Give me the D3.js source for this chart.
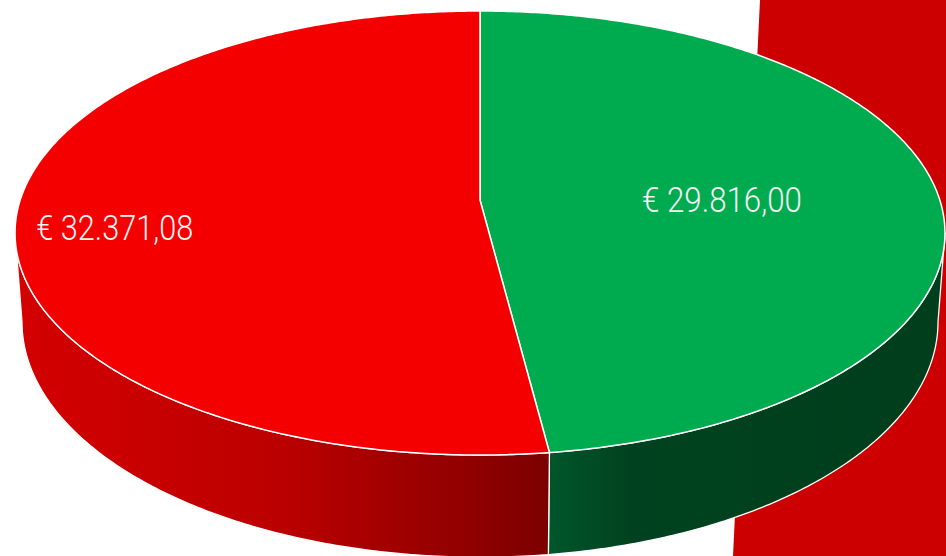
<!DOCTYPE html>
<html>
<head>
<meta charset="utf-8">
<script src="https://cdn.jsdelivr.net/npm/d3@7"></script>
<style>
  body { margin: 0; background: #fff; }
  svg { display: block; }
</style>
</head>
<body>
<div id="chart"></div>
<script>
// data
const categories = ["Verde", "Rosso"];
const values = [29816.00, 32371.08];
const labels = ["€ 29.816,00", "€ 32.371,08"];
const topColors = ["#00ab4f", "#f50000"];

const width = 946, height = 556;

const svg = d3.select("#chart")
  .append("svg")
    .attr("width", width)
    .attr("height", height);

// red band in the background
svg.append("path")
  .attr("d", `M760,0 L${width},0 L${width},${height} L733,${height} Z`)
  .attr("fill", "#cc0000");

// perspective projection of a disc
const cx = 480, cy = 200;   // projected centre
const a = 459.8, b = 217.1; // radii
const k = 0.1487;           // perspective strength
const depth = 87;           // thickness
const shrink = 0.985;       // bottom face is a bit narrower

function proj(theta, r, bottom) {
  const u = r * Math.sin(theta), v = -r * Math.cos(theta);
  const w = 1 - k * v;
  const s = bottom ? shrink : 1;
  return [cx + s * a * u / w, cy + b * v / w + (bottom ? depth / w : 0)];
}

function arcPoints(t0, t1, r, bottom) {
  const n = Math.max(2, Math.ceil(Math.abs(t1 - t0) / 0.01));
  return d3.range(n + 1).map(i => proj(t0 + (t1 - t0) * i / n, r, bottom));
}

const line = d3.line();

const pie = d3.pie().sort(null).value(d => d)
  .startAngle(0).endAngle(2 * Math.PI);
const slices = pie(values);

// gradients for the side walls
const defs = svg.append("defs");
const sideGrads = [
  { id: "sideGreen", x1: 549, x2: 945, stops: [[0, "#00562b"], [0.2, "#00421f"], [1, "#003e1c"]] },
  { id: "sideRed", x1: 15, x2: 549, stops: [[0, "#d40000"], [0.5, "#bb0000"], [0.85, "#900000"], [1, "#7c0000"]] }
];
sideGrads.forEach(g => {
  const lg = defs.append("linearGradient")
    .attr("id", g.id)
    .attr("gradientUnits", "userSpaceOnUse")
    .attr("x1", g.x1).attr("x2", g.x2).attr("y1", 0).attr("y2", 0);
  g.stops.forEach(s => lg.append("stop").attr("offset", s[0]).attr("stop-color", s[1]));
});

// visible part of the rim lies between the two silhouette points
const tL = Math.acos(-k), tR = 2 * Math.PI - Math.acos(-k);

svg.append("g")
  .selectAll("path")
  .data(slices)
  .join("path")
    .attr("d", d => {
      const t0 = Math.max(d.startAngle, tL), t1 = Math.min(d.endAngle, tR);
      if (t1 <= t0) return null;
      const pts = arcPoints(t0, t1, 1, false).concat(arcPoints(t1, t0, 1, true));
      return line(pts) + "Z";
    })
    .attr("fill", (d, i) => `url(#${sideGrads[i].id})`)
    .attr("stroke", "#fff")
    .attr("stroke-width", 1.3)
    .attr("stroke-linejoin", "round");

// top faces
svg.append("g")
  .selectAll("path")
  .data(slices)
  .join("path")
    .attr("d", d => line([[cx, cy]].concat(arcPoints(d.startAngle, d.endAngle, 1, false))) + "Z")
    .attr("fill", (d, i) => topColors[i])
    .attr("stroke", "#fff")
    .attr("stroke-width", 1.5)
    .attr("stroke-linejoin", "round");

// labels
const labelR = [0.53, 0.79];
const labelDy = [19, 29];
const labelW = [160, 157];
svg.append("g")
  .selectAll("text")
  .data(slices)
  .join("text")
    .attr("x", (d, i) => proj((d.startAngle + d.endAngle) / 2, labelR[i], false)[0])
    .attr("y", (d, i) => proj((d.startAngle + d.endAngle) / 2, labelR[i], false)[1] + labelDy[i])
    .attr("text-anchor", "middle")
    .attr("font-family", "Roboto, sans-serif")
    .attr("font-weight", 300)
    .attr("font-size", 35)
    .attr("textLength", (d, i) => labelW[i])
    .attr("lengthAdjust", "spacingAndGlyphs")
    .attr("fill", "#f4f4f4")
    .text((d, i) => labels[i]);
</script>
</body>
</html>
